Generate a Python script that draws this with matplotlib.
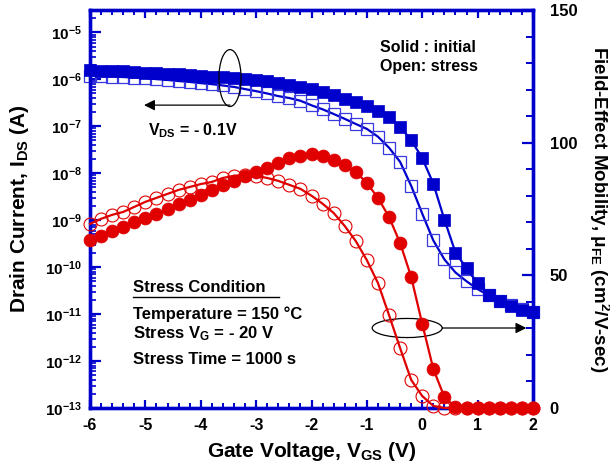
import matplotlib
matplotlib.use("Agg")
import matplotlib.pyplot as plt
import numpy as np
from matplotlib.patches import Ellipse
from matplotlib.ticker import LogLocator, FixedLocator, MultipleLocator, FuncFormatter, NullFormatter

plt.rcParams['font.family'] = ['Liberation Sans', 'DejaVu Sans']
plt.rcParams['font.weight'] = 'bold'
plt.rcParams['mathtext.fontset'] = 'custom'
plt.rcParams['mathtext.rm'] = 'Liberation Sans:bold'
plt.rcParams['mathtext.it'] = 'Liberation Sans:bold'
plt.rcParams['mathtext.bf'] = 'Liberation Sans:bold'
plt.rcParams['mathtext.default'] = 'bf'

# ---------------- data ----------------
vgs = [-6.0, -5.8, -5.6, -5.4, -5.2, -5.0, -4.8, -4.6, -4.4, -4.2,
       -4.0, -3.8, -3.6, -3.4, -3.2, -3.0, -2.8, -2.6, -2.4, -2.2,
       -2.0, -1.8, -1.6, -1.4, -1.2, -1.0, -0.8, -0.6, -0.4, -0.2,
       0.0, 0.2, 0.4, 0.6, 0.8, 1.0, 1.2, 1.4, 1.6, 1.8, 2.0]

ids_initial = [1.58e-6, 1.54e-6, 1.50e-6, 1.47e-6, 1.43e-6, 1.39e-6, 1.36e-6, 1.33e-6, 1.30e-6, 1.23e-6,
               1.20e-6, 1.15e-6, 1.12e-6, 1.07e-6, 1.01e-6, 9.7e-7, 9.0e-7, 8.3e-7, 7.6e-7, 6.9e-7,
               6.2e-7, 5.4e-7, 4.6e-7, 3.9e-7, 3.3e-7, 2.7e-7, 2.1e-7, 1.6e-7, 9.7e-8, 5.1e-8,
               2.1e-8, 6.0e-9, 1.03e-9, 2.05e-10, 9.4e-11, 4.5e-11, 2.5e-11, 1.87e-11, 1.47e-11, 1.21e-11, 1.09e-11]

ids_stress = [1.20e-6, 1.17e-6, 1.15e-6, 1.12e-6, 1.09e-6, 1.07e-6, 1.01e-6, 9.7e-7, 9.2e-7, 8.8e-7,
              8.3e-7, 7.9e-7, 7.4e-7, 6.9e-7, 6.2e-7, 5.6e-7, 5.0e-7, 4.4e-7, 4.0e-7, 3.5e-7,
              2.8e-7, 2.3e-7, 1.83e-7, 1.44e-7, 1.12e-7, 8.8e-8, 6.0e-8, 3.5e-8, 1.75e-8, 5.4e-9,
              1.38e-9, 3.7e-10, 1.46e-10, 7.7e-11, 5.0e-11, 3.4e-11, 2.5e-11, 1.87e-11, 1.54e-11, 1.26e-11, 1.09e-11]

mu_initial = [63.3, 64.8, 66.7, 68.2, 70.1, 71.6, 73.1, 75.0, 76.9, 78.4,
              80.3, 82.2, 84.1, 85.6, 87.4, 89.0, 90.5, 92.3, 94.2, 95.0,
              95.7, 95.0, 93.5, 91.6, 89.0, 84.8, 79.2, 72.0, 62.2, 49.4,
              31.7, 14.7, 4.1, 0.4, 0.0, 0.0, 0.0, 0.0, 0.0, 0.0, 0.0]

mu_stress = [69.4, 71.3, 72.8, 73.9, 75.8, 77.7, 79.2, 80.7, 82.2, 83.3,
             84.4, 85.2, 86.7, 87.5, 87.9, 87.5, 86.7, 85.6, 84.1, 82.6,
             80.0, 77.0, 73.5, 68.6, 62.9, 55.7, 47.1, 35.0, 22.6, 10.6,
             4.5, 0.8, 0.0, 0.0, 0.0, 0.0, 0.0, 0.0, 0.0, 0.0, 0.0]

x_ticks = [-6, -5, -4, -3, -2, -1, 0, 1, 2]
mu_ticks = [0, 50, 100, 150]

BLUE = '#0000CC'
RED = '#E00000'

fig = plt.figure(figsize=(6.10, 4.71), dpi=100)
ax = fig.add_axes([90/610, 1-408/471, 443/610, 398/471])
ax2 = ax.twinx()

# Blue: drain current
ax.plot(vgs, ids_stress, '-', color=BLUE, lw=1.6, marker='s', ms=8.3,
        mfc='none', mec='#3A3AE0', mew=0.9, zorder=3)
ax.plot(vgs, ids_initial, '-', color=BLUE, lw=1.6, marker='s', ms=8.3,
        mfc=BLUE, mec=BLUE, mew=0.5, zorder=4)
ax.set_yscale('log')
ax.set_xlim(-6, 2)
ax.set_ylim(1e-13, 3e-5)

# Red: mobility
ax2.plot(vgs, mu_stress, '-', color=RED, lw=1.6, marker='o', ms=9.3,
         mfc='none', mec=RED, mew=0.8, zorder=3)
ax2.plot(vgs, mu_initial, '-', color=RED, lw=1.6, marker='o', ms=9.3,
         mfc=RED, mec=RED, mew=0.5, zorder=4)
ax2.set_ylim(0, 150)
ax2.set_xlim(-6, 2)

for a in (ax, ax2):
    for s in a.spines.values():
        s.set_color(BLUE)
        s.set_linewidth(2.4)

for ln in ax.lines + ax2.lines:
    ln.set_clip_on(False)

# ticks
ax.xaxis.set_major_locator(FixedLocator(x_ticks))
ax.xaxis.set_minor_locator(MultipleLocator(0.2))
ax.xaxis.set_major_formatter(FuncFormatter(lambda v, p: f"{int(round(v))}"))
ax.yaxis.set_major_locator(LogLocator(base=10, numticks=20))
ax.yaxis.set_minor_locator(LogLocator(base=10, subs=np.arange(2, 10), numticks=20))
ax.yaxis.set_minor_formatter(NullFormatter())
ax.yaxis.set_major_formatter(FuncFormatter(lambda v, p: r"$\mathbf{10^{%d}}$" % int(round(np.log10(v)))))
ax.tick_params(axis='x', which='major', direction='in', length=6, width=1.6, color=BLUE,
               top=True, labelsize=11.5, pad=7)
ax.tick_params(axis='x', which='minor', direction='in', length=3.5, width=1.4, color=BLUE, top=True)
ax.tick_params(axis='y', which='major', direction='in', length=8, width=1.6, color=BLUE,
               labelsize=11, pad=6)
ax.tick_params(axis='y', which='minor', direction='in', length=4.5, width=1.2, color=BLUE)

ax2.yaxis.set_major_locator(FixedLocator(mu_ticks))
ax2.yaxis.set_minor_locator(MultipleLocator(10))
ax2.tick_params(axis='y', which='major', direction='in', length=8, width=1.6, color=BLUE,
                labelsize=12, pad=12)
ax2.tick_params(axis='y', which='minor', direction='in', length=5, width=1.4, color=BLUE)

for lab in ax.get_xticklabels() + ax.get_yticklabels() + ax2.get_yticklabels():
    lab.set_fontweight('bold')

ax.set_xlabel(r"Gate Voltage, V$_{GS}$ (V)", fontsize=15, fontweight='bold', labelpad=5)
ax.set_ylabel(r"Drain Current, I$_{DS}$ (A)", fontsize=15, fontweight='bold', labelpad=10)
ax2.set_ylabel(r"Field-Effect Mobility, μ$_{FE}$ (cm$^2$/V-sec)", fontsize=13.5,
               fontweight='bold', rotation=270, labelpad=24)

# annotations
T = ax.transAxes
ax.add_patch(Ellipse((0.316, 0.829), 0.050, 0.143, transform=T, fill=False,
                     ec='black', lw=0.9, zorder=6))
ax.annotate('', xy=(0.122, 0.761), xytext=(0.316, 0.761), xycoords=T, textcoords=T,
            arrowprops=dict(arrowstyle='-|>', color='black', lw=0.9,
                            mutation_scale=16, shrinkA=0, shrinkB=0), zorder=6)
ax.text(0.131, 0.698, r"V$_{DS}$ = - 0.1V", transform=T, fontsize=11.5, fontweight='bold',
        va='center', ha='left')

ax.add_patch(Ellipse((0.716, 0.201), 0.158, 0.048, transform=T, fill=False,
                     ec='black', lw=0.9, zorder=6))
ax.annotate('', xy=(0.985, 0.201), xytext=(0.795, 0.201), xycoords=T, textcoords=T,
            arrowprops=dict(arrowstyle='-|>', color='black', lw=0.9,
                            mutation_scale=16, shrinkA=0, shrinkB=0), zorder=6)

ax.text(0.655, 0.907, "Solid : initial", transform=T, fontsize=11.5, fontweight='bold',
        va='center', ha='left')
ax.text(0.655, 0.859, "Open: stress", transform=T, fontsize=11.5, fontweight='bold',
        va='center', ha='left')

ax.text(0.097, 0.304, "Stress Condition", transform=T, fontsize=12, fontweight='bold',
        va='center', ha='left')
ax.plot([0.097, 0.427], [0.280, 0.280], transform=T, color='black', lw=1.0, clip_on=False)
ax.text(0.097, 0.236, "Temperature = 150 °C", transform=T, fontsize=12, fontweight='bold',
        va='center', ha='left')
ax.text(0.097, 0.188, r"Stress V$_G$ = - 20 V", transform=T, fontsize=12, fontweight='bold',
        va='center', ha='left')
ax.text(0.097, 0.121, "Stress Time = 1000 s", transform=T, fontsize=12, fontweight='bold',
        va='center', ha='left')

fig.savefig("out.png", dpi=100)
